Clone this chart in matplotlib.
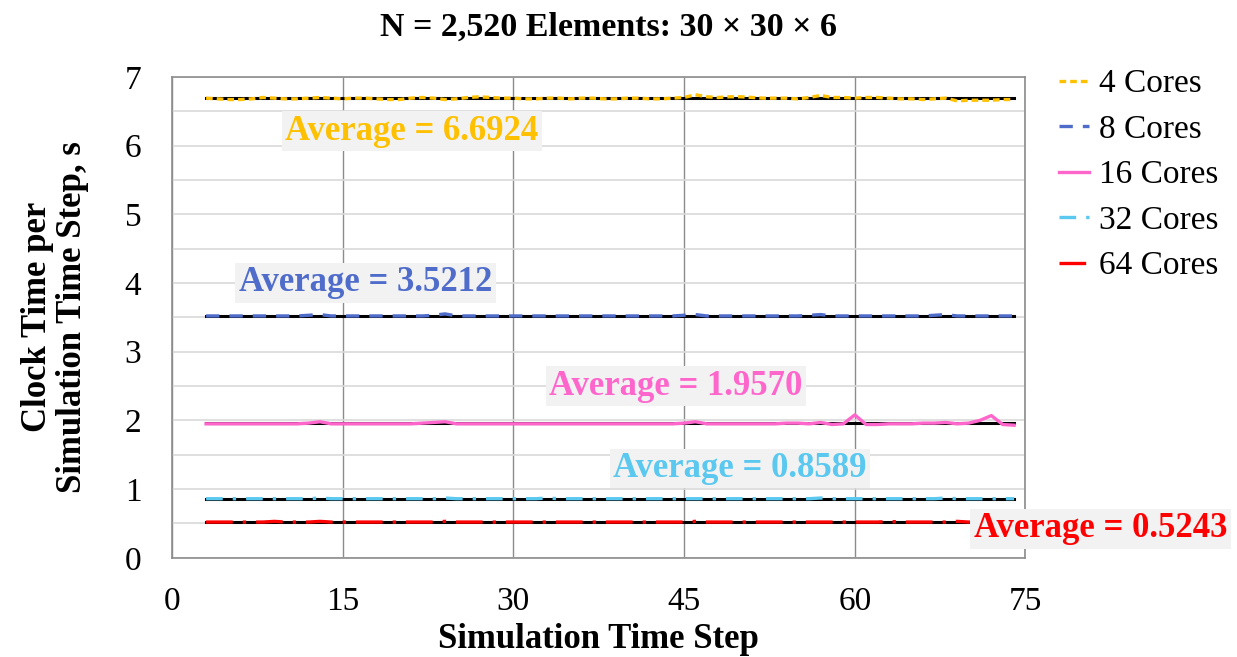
"""Clock time per simulation time step for N = 2,520 elements, 4..64 cores -> out.png."""
import matplotlib
matplotlib.use("Agg")
import matplotlib.pyplot as plt
import numpy as np

plt.rcParams["font.family"] = ["Liberation Serif", "DejaVu Serif"]

steps = list(range(3, 75))

cores_4 = [6.69, 6.68, 6.67, 6.67, 6.68, 6.70, 6.69, 6.68, 6.68, 6.69, 6.70, 6.69,
           6.68, 6.69, 6.69, 6.68, 6.67, 6.67, 6.69, 6.70, 6.69, 6.67, 6.68, 6.70,
           6.71, 6.70, 6.69, 6.69, 6.68, 6.68, 6.69, 6.69, 6.68, 6.69, 6.69, 6.68,
           6.68, 6.69, 6.69, 6.68, 6.68, 6.69, 6.70, 6.74, 6.71, 6.70, 6.71, 6.71,
           6.70, 6.69, 6.69, 6.69, 6.68, 6.70, 6.73, 6.70, 6.70, 6.69, 6.70, 6.70,
           6.69, 6.68, 6.68, 6.67, 6.68, 6.69, 6.65, 6.66, 6.66, 6.66, 6.67, 6.67]
cores_8 = [3.52, 3.52, 3.52, 3.52, 3.52, 3.52, 3.52, 3.52, 3.52, 3.53, 3.54, 3.52,
           3.52, 3.52, 3.52, 3.52, 3.52, 3.52, 3.52, 3.52, 3.53, 3.55, 3.52, 3.52,
           3.52, 3.52, 3.52, 3.52, 3.52, 3.52, 3.52, 3.52, 3.52, 3.52, 3.52, 3.52,
           3.52, 3.52, 3.52, 3.52, 3.52, 3.52, 3.53, 3.54, 3.52, 3.52, 3.52, 3.52,
           3.52, 3.52, 3.52, 3.52, 3.52, 3.53, 3.54, 3.52, 3.52, 3.52, 3.52, 3.52,
           3.52, 3.52, 3.52, 3.52, 3.53, 3.54, 3.52, 3.52, 3.52, 3.52, 3.52, 3.52]
cores_16 = [1.95, 1.95, 1.95, 1.95, 1.95, 1.95, 1.95, 1.95, 1.95, 1.96, 1.98, 1.95,
            1.95, 1.95, 1.95, 1.95, 1.95, 1.95, 1.95, 1.96, 1.97, 1.98, 1.95, 1.95,
            1.95, 1.95, 1.95, 1.95, 1.95, 1.95, 1.95, 1.95, 1.95, 1.95, 1.95, 1.95,
            1.95, 1.95, 1.95, 1.95, 1.95, 1.95, 1.96, 1.98, 1.95, 1.95, 1.95, 1.95,
            1.95, 1.95, 1.95, 1.96, 1.96, 1.95, 1.97, 1.94, 1.95, 2.08, 1.94, 1.94,
            1.95, 1.95, 1.95, 1.96, 1.96, 1.97, 1.95, 1.96, 2.00, 2.07, 1.94, 1.93]
cores_32 = [0.86, 0.86, 0.86, 0.86, 0.86, 0.86, 0.86, 0.86, 0.86, 0.86, 0.87, 0.86,
            0.86, 0.86, 0.86, 0.86, 0.86, 0.86, 0.86, 0.86, 0.86, 0.87, 0.86, 0.86,
            0.86, 0.86, 0.86, 0.86, 0.86, 0.86, 0.87, 0.86, 0.86, 0.86, 0.86, 0.86,
            0.86, 0.86, 0.86, 0.86, 0.86, 0.86, 0.86, 0.86, 0.86, 0.86, 0.86, 0.86,
            0.86, 0.86, 0.86, 0.86, 0.86, 0.86, 0.87, 0.86, 0.86, 0.86, 0.86, 0.86,
            0.86, 0.86, 0.86, 0.86, 0.86, 0.87, 0.86, 0.86, 0.86, 0.86, 0.86, 0.86]
cores_64 = [0.52, 0.52, 0.52, 0.52, 0.52, 0.52, 0.53, 0.52, 0.52, 0.52, 0.53, 0.52,
            0.52, 0.52, 0.52, 0.52, 0.52, 0.52, 0.52, 0.52, 0.52, 0.53, 0.52, 0.52,
            0.52, 0.52, 0.52, 0.52, 0.52, 0.52, 0.52, 0.52, 0.52, 0.52, 0.52, 0.52,
            0.52, 0.52, 0.52, 0.52, 0.52, 0.52, 0.52, 0.53, 0.52, 0.52, 0.52, 0.52,
            0.52, 0.52, 0.52, 0.52, 0.52, 0.52, 0.52, 0.52, 0.52, 0.52, 0.52, 0.52,
            0.53, 0.52, 0.52, 0.52, 0.52, 0.52, 0.53, 0.52, 0.52, 0.52, 0.52, 0.52]

labels = ["4 Cores", "8 Cores", "16 Cores", "32 Cores", "64 Cores"]
averages = [6.6924, 3.5212, 1.9570, 0.8589, 0.5243]
colors = ["#FFC000", "#4F6CCB", "#FF66CC", "#5BC8F0", "#FF0000"]
dashes = [(2.0, 1.2), (4, 3), None, (5, 3, 1, 3), (8, 3, 1, 3)]
# where each "Average = ..." box sits (data coords)
label_pos = [(21.1, 6.21), (17.0, 4.00), (44.3, 2.50), (49.9, 1.30), (81.6, 0.42)]

series = [cores_4, cores_8, cores_16, cores_32, cores_64]

fig = plt.figure(figsize=(12.37, 6.57), dpi=100)
ax = fig.add_axes([0.139, 0.151, 0.690, 0.732])

for avg, vals, color, dash, lab in zip(averages, series, colors, dashes, labels):
    ax.plot([steps[0], steps[-1]], [avg, avg], color="black", lw=2.2, zorder=3)
    line, = ax.plot(steps, vals, color=color, lw=2.4, label=lab, zorder=4)
    if dash is not None:
        line.set_dashes(dash)

for avg, color, (tx, ty) in zip(averages, colors, label_pos):
    ax.text(tx, ty, f"Average = {avg:.4f}", color=color, fontsize=25,
            fontweight="bold", ha="center", va="center", zorder=6, clip_on=False,
            bbox=dict(boxstyle="square,pad=0.1", fc="#F2F2F2", ec="none"))

ax.set_xlim(0, 75)
ax.set_ylim(0, 7)
ax.set_xticks(np.arange(0, 76, 15))
ax.set_yticks(np.arange(0, 8, 1))
ax.set_yticks(np.arange(0.5, 7, 1), minor=True)
ax.grid(axis="y", which="both", color="#D9D9D9", lw=1.2, zorder=0)
ax.grid(axis="x", which="major", color="#8C8C8C", lw=1.0, zorder=0)
ax.tick_params(which="both", length=0, labelsize=24)
ax.tick_params(axis="x", pad=21)
ax.tick_params(axis="y", pad=22)
for sp in ax.spines.values():
    sp.set_color("#8C8C8C")
    sp.set_linewidth(1.2)

ax.set_xlabel("Simulation Time Step", fontsize=25, fontweight="bold", labelpad=4)
ax.set_ylabel("Clock Time per\nSimulation Time Step, s", fontsize=25,
              fontweight="bold", labelpad=26, linespacing=1.08)
fig.text(0.492, 0.958, "N = 2,520 Elements: 30 \u00d7 30 \u00d7 6", fontsize=24.5,
         fontweight="bold", ha="center", va="center")

fig.legend(loc="upper left", bbox_to_anchor=(0.856, 0.895), frameon=False,
           fontsize=24, handlelength=0.9, handletextpad=0.3, labelspacing=0.45,
           borderaxespad=0, borderpad=0)

fig.savefig("out.png", dpi=100)
